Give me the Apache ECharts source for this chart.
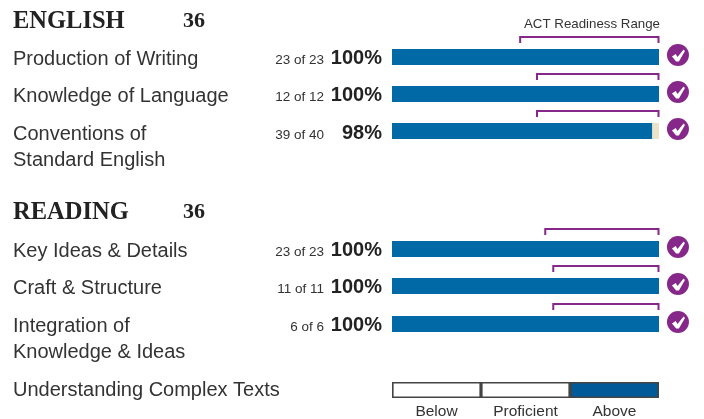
<!DOCTYPE html>
<html>
<head>
<meta charset="utf-8">
<style>
  html, body { margin: 0; padding: 0; background: #fff; }
  #chart { width: 704px; height: 419px; }
</style>
<script src="https://cdn.jsdelivr.net/npm/echarts@6/dist/echarts.min.js"></script>
</head>
<body>
<div id="chart"></div>
<script>
var rowNames = ['Production of Writing', 'Knowledge of Language', 'Conventions of\nStandard English', 'Key Ideas & Details', 'Craft & Structure', 'Integration of\nKnowledge & Ideas'];
var correct = [23, 12, 39, 23, 11, 6];
var total = [23, 12, 40, 23, 11, 6];
var rangeStart = [48, 54.3, 54.3, 57.4, 60.4, 60.4];
var sections = ['ENGLISH', 'READING'];
var sectionScores = [36, 36];
var levels = ['Below', 'Proficient', 'Above'];
var levelFilled = [0, 0, 1];

var BLUE = '#0069a6';
var TAN = '#ebe3c5';
var PURPLE = '#86288a';
var TEXT = '#333333';
var SANS = '"Liberation Sans", Arial, sans-serif';
var SERIF = '"Liberation Serif", serif';
var CHECK = 'path://M0 7.5 L4 5 L6 8 L12.5 0 L14 1.5 L7.5 13 L4.5 13 Z';

var rowTops = [49, 86, 123, 241, 278, 316];
var rowLabelY = [59, 96, 134, 251, 288, 326];
var sectionY = [22, 213];
var PX_PER_PCT = 2.67;
var AXIS_MAX = 112;

var grids = [], xAxes = [], yAxes = [], series = [], texts = [];

function addText(text, x, y, size, opts) {
  opts = opts || {};
  texts.push({
    type: 'text',
    x: x,
    y: y,
    silent: true,
    style: {
      text: text,
      fontSize: size,
      fontFamily: opts.family || SANS,
      fontWeight: opts.weight || 'normal',
      fill: opts.fill || TEXT,
      textAlign: opts.align || 'left',
      textVerticalAlign: 'middle',
      lineHeight: opts.lineHeight || 26
    }
  });
}

rowNames.forEach(function (name, i) {
  grids.push({ left: 392, top: rowTops[i], width: AXIS_MAX * PX_PER_PCT, height: 16 });
  xAxes.push({ type: 'value', gridIndex: i, min: 0, max: AXIS_MAX, show: false });
  yAxes.push({ type: 'category', gridIndex: i, data: [name], show: false });

  var pct = correct[i] / total[i] * 100;
  series.push({
    type: 'bar', xAxisIndex: i, yAxisIndex: i, stack: 'row' + i, barWidth: '100%',
    silent: true, itemStyle: { color: BLUE }, data: [pct]
  });
  series.push({
    type: 'bar', xAxisIndex: i, yAxisIndex: i, stack: 'row' + i, barWidth: '100%',
    silent: true, itemStyle: { color: TAN }, data: [100 - pct]
  });
  // bracket above the bar showing the readiness range
  series.push({
    type: 'custom', xAxisIndex: i, yAxisIndex: i, silent: true, clip: false,
    data: [[rangeStart[i], 100]],
    renderItem: function (params, api) {
      var a = api.coord([api.value(0), 0]);
      var b = api.coord([api.value(1), 0]);
      return {
        type: 'polyline',
        shape: { points: [[a[0], a[1] + -14], [a[0], a[1] - 20], [b[0] - 0.5, a[1] - 20], [b[0] - 0.5, a[1] - 14]] },
        style: { stroke: PURPLE, lineWidth: 2, fill: null }
      };
    }
  });
  series.push({
    type: 'scatter', xAxisIndex: i, yAxisIndex: i, silent: true, clip: false,
    symbol: 'circle', symbolSize: 22, symbolOffset: [0, -2],
    itemStyle: { color: PURPLE, opacity: 1 }, data: [[107.1, 0]], z: 3
  });
  series.push({
    type: 'scatter', xAxisIndex: i, yAxisIndex: i, silent: true, clip: false,
    symbol: CHECK, symbolSize: [13, 12], symbolOffset: [0.5, -1.5],
    itemStyle: { color: '#ffffff', opacity: 1 }, data: [[107.1, 0]], z: 4
  });

  addText(name, 13, rowLabelY[i] + (name.indexOf('\n') > -1 ? 13 : 0), 20);
  addText(correct[i] + ' of ' + total[i], 324, rowLabelY[i] + 1, 13.5, { align: 'right' });
  addText(Math.round(pct) + '%', 382, rowLabelY[i] - 1, 20, { align: 'right', weight: 'bold', fill: '#222' });
});

// performance strip at the bottom
var s = rowNames.length;
grids.push({ left: 392, top: 382, width: 267, height: 16, outerBoundsMode: 'none' });
xAxes.push({
  type: 'category', gridIndex: s, data: levels,
  axisLine: { show: false }, axisTick: { show: false },
  axisLabel: { color: TEXT, fontSize: 15.5, fontFamily: SANS, margin: 6 }
});
yAxes.push({ type: 'value', gridIndex: s, min: 0, max: 1, show: false });
series.push({
  type: 'bar', xAxisIndex: s, yAxisIndex: s, barWidth: '100%', silent: true,
  data: levelFilled.map(function (v) {
    return { value: 1, itemStyle: { color: v ? '#005a98' : '#ffffff', borderColor: '#444', borderWidth: 1.6 } };
  })
});

sections.forEach(function (name, i) {
  addText(name, 13, sectionY[i], 24.5, { family: SERIF, weight: 'bold', fill: '#222' });
  addText(String(sectionScores[i]), 183, sectionY[i] - 1, 22, { family: SERIF, weight: 'bold', fill: '#222' });
});
addText('ACT Readiness Range', 660, 24, 13.3, { align: 'right' });
addText('Understanding Complex Texts', 13, 390, 20);

var chart = echarts.init(document.getElementById('chart'));
chart.setOption({
  animation: false,
  grid: grids,
  xAxis: xAxes,
  yAxis: yAxes,
  series: series,
  graphic: texts
});
</script>
</body>
</html>
